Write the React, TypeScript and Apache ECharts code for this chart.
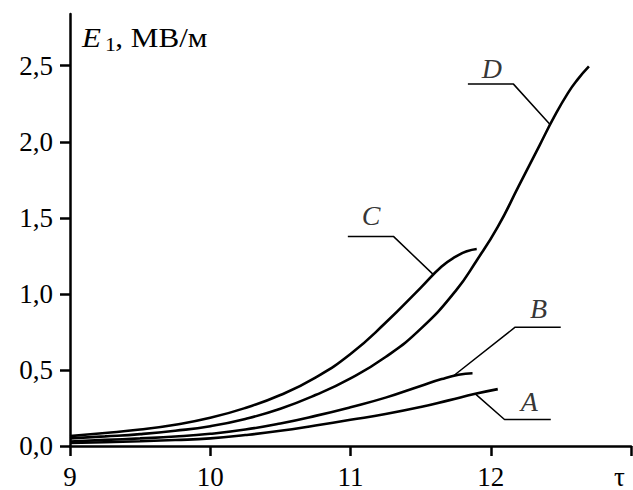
import React, { useEffect, useRef } from "react";
import * as echarts from "echarts";

// ---- data ----
const tauA = [9.0, 9.25, 9.5, 9.75, 10.0, 10.25, 10.5, 10.75, 11.0, 11.25, 11.5, 11.7, 11.89, 12.05];
const eA = [0.02, 0.025, 0.031, 0.039, 0.05, 0.072, 0.1, 0.135, 0.172, 0.21, 0.256, 0.3, 0.343, 0.374];

const tauB = [9.0, 9.25, 9.5, 9.75, 10.0, 10.25, 10.5, 10.75, 11.0, 11.25, 11.5, 11.65, 11.77, 11.87];
const eB = [0.03, 0.04, 0.05, 0.062, 0.08, 0.108, 0.148, 0.198, 0.255, 0.318, 0.395, 0.44, 0.468, 0.478];

const tauC = [9.0, 9.25, 9.5, 9.75, 10.0, 10.25, 10.5, 10.75, 11.0, 11.25, 11.5, 11.65, 11.75, 11.83, 11.9];
const eC = [0.065, 0.085, 0.108, 0.14, 0.185, 0.25, 0.335, 0.45, 0.605, 0.81, 1.04, 1.18, 1.245, 1.28, 1.295];

const tauD = [9.0, 9.25, 9.5, 9.75, 10.0, 10.25, 10.5, 10.75, 11.0, 11.25, 11.5, 11.75, 11.9, 12.05, 12.2, 12.35, 12.45, 12.55, 12.62, 12.7];
const eD = [0.05, 0.063, 0.078, 0.1, 0.13, 0.178, 0.245, 0.335, 0.445, 0.585, 0.77, 1.02, 1.22, 1.44, 1.71, 1.98, 2.16, 2.32, 2.41, 2.495];

const curveNames = ["A", "B", "C", "D"];
const curveTau = [tauA, tauB, tauC, tauD];
const curveE = [eA, eB, eC, eD];

// leader lines (data coordinates): touch point, elbow, end of horizontal
const leaderTau = [
  [11.89, 12.098, 12.428],
  [11.735, 12.174, 12.499],
  [11.593, 11.306, 10.981],
  [12.423, 12.162, 11.837],
];
const leaderE = [
  [0.343, 0.174, 0.174],
  [0.462, 0.781, 0.781],
  [1.125, 1.378, 1.378],
  [2.114, 2.379, 2.379],
];
// label anchors (data coordinates)
const labelTau = [12.274, 12.34, 11.147, 12.008];
const labelE = [0.294, 0.907, 1.515, 2.483];

const xTicks = [9, 10, 11, 12, 13];
const xLabels = [9, 10, 11, 12];
const yTicks = [0, 0.5, 1.0, 1.5, 2.0, 2.5];

const FONT = "Liberation Serif";

export default function App() {
  const ref = useRef<HTMLDivElement>(null);
  useEffect(() => {
    if (!ref.current) return;
    const chart = echarts.init(ref.current, null, { renderer: "svg" });
    const series: any[] = [];
    curveNames.forEach((n, i) => {
      series.push({
        name: n,
        type: "line",
        data: curveTau[i].map((t, k) => [t, curveE[i][k]]),
        smooth: 0.5,
        showSymbol: false,
        lineStyle: { color: "#000", width: 2.6 },
        z: 3,
      });
      series.push({
        name: n + "-leader",
        type: "line",
        data: leaderTau[i].map((t, k) => [t, leaderE[i][k]]),
        smooth: false,
        showSymbol: false,
        lineStyle: { color: "#000", width: 1.5 },
        z: 2,
      });
      series.push({
        name: n + "-label",
        type: "scatter",
        data: [[labelTau[i], labelE[i]]],
        symbolSize: 0,
        label: {
          show: true,
          position: "inside",
          formatter: n,
          fontFamily: FONT,
          fontStyle: "italic",
          fontSize: 28,
          color: "#000",
        },
      });
    });

    chart.setOption({
      animation: false,
      backgroundColor: "#fff",
      grid: { left: 70, right: 2, top: 14, bottom: 41, containLabel: false },
      xAxis: {
        type: "value",
        min: 9,
        max: 13,
        interval: 1,
        axisLine: { show: true, lineStyle: { color: "#000", width: 2.5 } },
        axisTick: {
          show: true,
          length: 10,
          inside: false,
          customValues: xTicks,
          lineStyle: { color: "#000", width: 2.5 },
        },
        axisLabel: {
          customValues: xLabels,
          margin: 17,
          fontFamily: FONT,
          fontSize: 27,
          color: "#000",
          formatter: (v: number) => String(v),
        },
        splitLine: { show: false },
      },
      yAxis: {
        type: "value",
        min: 0,
        max: 2.84,
        interval: 0.5,
        axisLine: { show: true, lineStyle: { color: "#000", width: 2.5 } },
        axisTick: {
          show: true,
          length: 10,
          inside: false,
          customValues: yTicks,
          lineStyle: { color: "#000", width: 2.5 },
        },
        axisLabel: {
          customValues: yTicks,
          margin: 17,
          fontFamily: FONT,
          fontSize: 27,
          color: "#000",
          formatter: (v: number) => v.toFixed(1).replace(".", ","),
        },
        splitLine: { show: false },
      },
      graphic: [
        {
          type: "group",
          x: 82,
          y: 24,
          scaleX: 1.15,
          children: [
            {
              type: "text",
              x: 0,
              y: 0,
              style: {
                text: "E",
                fontFamily: FONT,
                fontStyle: "italic",
                fontWeight: "normal",
                fontSize: 27,
                fill: "#000",
              },
            },
            {
              type: "text",
              x: 20,
              y: 11,
              style: { text: "1", fontFamily: FONT, fontWeight: "normal", fontSize: 19, fill: "#000" },
            },
            {
              type: "text",
              x: 29,
              y: 0,
              style: { text: ", МВ/м", fontFamily: FONT, fontWeight: "normal", fontSize: 27, fill: "#000" },
            },
          ],
        },
        {
          type: "text",
          x: 614,
          y: 463,
          style: { text: "τ", fontFamily: FONT, fontSize: 27, fill: "#000" },
        },
      ],
      series,
    });
    return () => chart.dispose();
  }, []);
  return (
    <div
      ref={ref}
      style={{ position: "absolute", left: 0, top: 0, width: 633, height: 490 }}
    />
  );
}
